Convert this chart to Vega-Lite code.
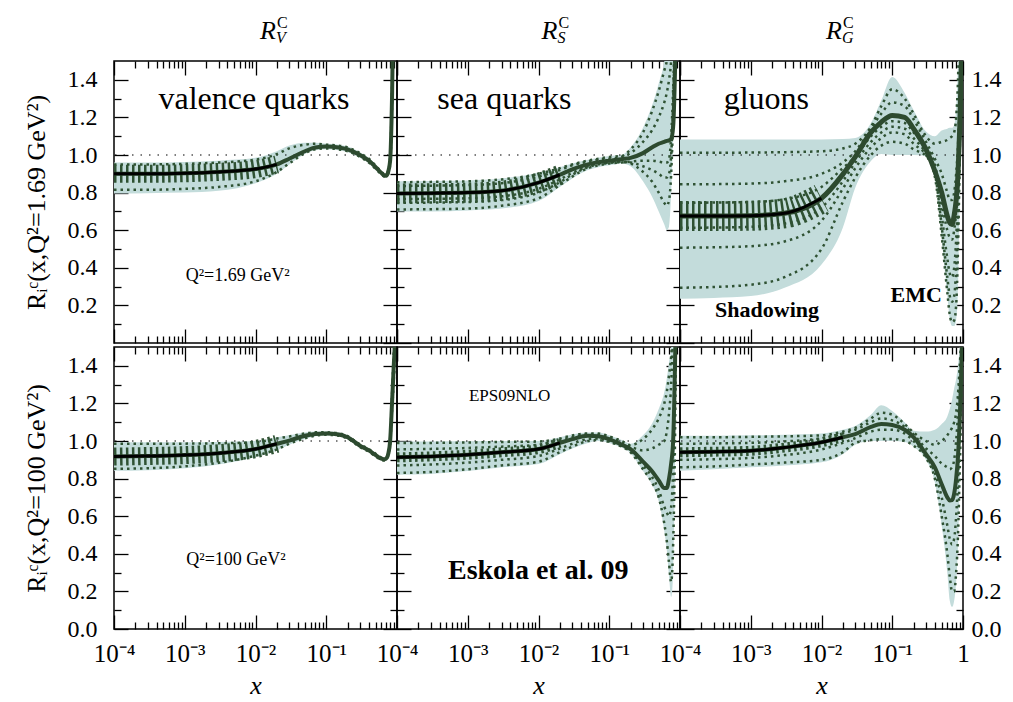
{
"$schema": "https://vega.github.io/schema/vega-lite/v6.json",
"background": "white",
"padding": {"left": 22, "top": 14, "right": 5, "bottom": 3},
"spacing": 0,
"bounds": "full",
"config": {
 "font": "Liberation Serif",
 "view": {"stroke": "black", "strokeWidth": 1.5},
 "axis": {"domain": false, "grid": false, "tickColor": "black", "tickWidth": 1.3, "labelFont": "Liberation Serif", "labelColor": "black", "labelFontSize": 24, "titleFont": "Liberation Serif", "titleColor": "black", "titleFontWeight": "normal", "labelFlush": false, "labelOverlap": false, "labelBound": false},
 "text": {"font": "Liberation Serif", "color": "black"}
},
"datasets": {
 "tl": [
  {"x":0.0001,"lo":0.795,"hi":0.96,"c":0.90,"d1":0.95,"d2":0.815},
  {"x":0.0003,"lo":0.797,"hi":0.96,"c":0.90,"d1":0.95,"d2":0.815},
  {"x":0.001,"lo":0.80,"hi":0.963,"c":0.903,"d1":0.953,"d2":0.82},
  {"x":0.003,"lo":0.81,"hi":0.97,"c":0.91,"d1":0.96,"d2":0.83},
  {"x":0.01,"lo":0.85,"hi":0.985,"c":0.925,"d1":0.975,"d2":0.86},
  {"x":0.02,"lo":0.90,"hi":1.02,"c":0.95,"d1":1.005,"d2":0.91},
  {"x":0.03,"lo":0.95,"hi":1.05,"c":0.98,"d1":1.035,"d2":0.955},
  {"x":0.05,"lo":1.005,"hi":1.065,"c":1.02,"d1":1.055,"d2":1.01},
  {"x":0.07,"lo":1.025,"hi":1.065,"c":1.04,"d1":1.06,"d2":1.03},
  {"x":0.1,"lo":1.03,"hi":1.06,"c":1.045,"d1":1.055,"d2":1.035},
  {"x":0.15,"lo":1.025,"hi":1.055,"c":1.04,"d1":1.05,"d2":1.03},
  {"x":0.2,"lo":1.015,"hi":1.045,"c":1.03,"d1":1.04,"d2":1.02},
  {"x":0.3,"lo":0.985,"hi":1.015,"c":1.0,"d1":1.01,"d2":0.99},
  {"x":0.4,"lo":0.955,"hi":0.985,"c":0.97,"d1":0.98,"d2":0.96},
  {"x":0.5,"lo":0.92,"hi":0.948,"c":0.935,"d1":0.943,"d2":0.925},
  {"x":0.6,"lo":0.895,"hi":0.915,"c":0.905,"d1":0.911,"d2":0.897},
  {"x":0.65,"lo":0.883,"hi":0.903,"c":0.893,"d1":0.9,"d2":0.886},
  {"x":0.7,"lo":0.88,"hi":0.9,"c":0.89,"d1":0.897,"d2":0.883},
  {"x":0.75,"lo":0.895,"hi":0.925,"c":0.91,"d1":0.92,"d2":0.9},
  {"x":0.8,"lo":0.94,"hi":1.0,"c":0.97,"d1":0.99,"d2":0.95},
  {"x":0.85,"lo":1.2,"hi":1.4,"c":1.3,"d1":1.35,"d2":1.25},
  {"x":0.9,"lo":1.8,"hi":2,"c":1.9,"d1":1.95,"d2":1.85},
  {"x":0.95,"lo":2,"hi":2,"c":2,"d1":2,"d2":2},
  {"x":1,"lo":2,"hi":2,"c":2,"d1":2,"d2":2}
 ],
 "tm": [
  {"x":0.0001,"lo":0.70,"hi":0.86,"c":0.795,"d1":0.855,"d2":0.835,"d3":0.765,"d4":0.71,"d5":0.745},
  {"x":0.0003,"lo":0.70,"hi":0.862,"c":0.797,"d1":0.857,"d2":0.837,"d3":0.767,"d4":0.712,"d5":0.747},
  {"x":0.001,"lo":0.705,"hi":0.865,"c":0.80,"d1":0.86,"d2":0.84,"d3":0.77,"d4":0.715,"d5":0.75},
  {"x":0.003,"lo":0.715,"hi":0.875,"c":0.81,"d1":0.87,"d2":0.85,"d3":0.78,"d4":0.73,"d5":0.76},
  {"x":0.01,"lo":0.755,"hi":0.905,"c":0.853,"d1":0.9,"d2":0.885,"d3":0.82,"d4":0.77,"d5":0.8},
  {"x":0.02,"lo":0.83,"hi":0.935,"c":0.895,"d1":0.93,"d2":0.92,"d3":0.87,"d4":0.84,"d5":0.855},
  {"x":0.03,"lo":0.875,"hi":0.955,"c":0.924,"d1":0.95,"d2":0.945,"d3":0.905,"d4":0.885,"d5":0.895},
  {"x":0.05,"lo":0.92,"hi":0.975,"c":0.95,"d1":0.97,"d2":0.965,"d3":0.94,"d4":0.93,"d5":0.935},
  {"x":0.07,"lo":0.935,"hi":0.985,"c":0.962,"d1":0.98,"d2":0.975,"d3":0.955,"d4":0.945,"d5":0.95},
  {"x":0.1,"lo":0.945,"hi":0.995,"c":0.97,"d1":0.99,"d2":0.98,"d3":0.96,"d4":0.955,"d5":0.958},
  {"x":0.15,"lo":0.955,"hi":1.0,"c":0.978,"d1":0.995,"d2":0.99,"d3":0.965,"d4":0.96,"d5":0.962},
  {"x":0.2,"lo":0.94,"hi":1.04,"c":0.985,"d1":1.03,"d2":1.01,"d3":0.955,"d4":0.965,"d5":0.96},
  {"x":0.3,"lo":0.86,"hi":1.145,"c":1.01,"d1":1.12,"d2":1.07,"d3":0.91,"d4":0.97,"d5":0.94},
  {"x":0.4,"lo":0.78,"hi":1.26,"c":1.04,"d1":1.23,"d2":1.13,"d3":0.86,"d4":0.97,"d5":0.92},
  {"x":0.5,"lo":0.70,"hi":1.38,"c":1.06,"d1":1.34,"d2":1.2,"d3":0.8,"d4":0.965,"d5":0.9},
  {"x":0.6,"lo":0.63,"hi":1.5,"c":1.07,"d1":1.45,"d2":1.28,"d3":0.745,"d4":0.96,"d5":0.88},
  {"x":0.65,"lo":0.6,"hi":1.6,"c":1.075,"d1":1.5,"d2":1.33,"d3":0.73,"d4":0.96,"d5":0.88},
  {"x":0.7,"lo":0.62,"hi":1.7,"c":1.078,"d1":1.6,"d2":1.4,"d3":0.76,"d4":0.98,"d5":0.9},
  {"x":0.75,"lo":0.8,"hi":1.8,"c":1.085,"d1":1.7,"d2":1.5,"d3":0.9,"d4":1.1,"d5":1.0},
  {"x":0.8,"lo":1.1,"hi":1.9,"c":1.15,"d1":1.8,"d2":1.7,"d3":1.2,"d4":1.35,"d5":1.25},
  {"x":0.85,"lo":1.5,"hi":2,"c":1.45,"d1":2,"d2":2,"d3":1.6,"d4":1.7,"d5":1.65},
  {"x":0.9,"lo":2,"hi":2,"c":2,"d1":2,"d2":2,"d3":2,"d4":2,"d5":2},
  {"x":0.95,"lo":2,"hi":2,"c":2,"d1":2,"d2":2,"d3":2,"d4":2,"d5":2},
  {"x":1,"lo":2,"hi":2,"c":2,"d1":2,"d2":2,"d3":2,"d4":2,"d5":2}
 ],
 "tr": [
  {"x":0.0001,"lo":0.236,"hi":1.083,"c":0.675,"d1":1.012,"d2":0.844,"d3":0.746,"d4":0.613,"d5":0.507,"d6":0.294},
  {"x":0.0003,"lo":0.24,"hi":1.083,"c":0.675,"d1":1.012,"d2":0.845,"d3":0.747,"d4":0.614,"d5":0.509,"d6":0.298},
  {"x":0.001,"lo":0.25,"hi":1.083,"c":0.677,"d1":1.013,"d2":0.848,"d3":0.75,"d4":0.618,"d5":0.515,"d6":0.31},
  {"x":0.003,"lo":0.294,"hi":1.083,"c":0.69,"d1":1.015,"d2":0.86,"d3":0.765,"d4":0.635,"d5":0.54,"d6":0.35},
  {"x":0.01,"lo":0.418,"hi":1.083,"c":0.77,"d1":1.02,"d2":0.9,"d3":0.83,"d4":0.72,"d5":0.65,"d6":0.5},
  {"x":0.02,"lo":0.613,"hi":1.085,"c":0.897,"d1":1.035,"d2":0.96,"d3":0.93,"d4":0.86,"d5":0.82,"d6":0.75},
  {"x":0.03,"lo":0.826,"hi":1.09,"c":0.99,"d1":1.06,"d2":1.02,"d3":0.99,"d4":0.96,"d5":0.93,"d6":0.88},
  {"x":0.05,"lo":0.968,"hi":1.17,"c":1.12,"d1":1.15,"d2":1.14,"d3":1.1,"d4":1.07,"d5":1.04,"d6":1.0},
  {"x":0.07,"lo":1.005,"hi":1.29,"c":1.175,"d1":1.26,"d2":1.22,"d3":1.15,"d4":1.12,"d5":1.09,"d6":1.05},
  {"x":0.1,"lo":1.0,"hi":1.415,"c":1.21,"d1":1.35,"d2":1.28,"d3":1.18,"d4":1.15,"d5":1.12,"d6":1.07},
  {"x":0.15,"lo":1.0,"hi":1.33,"c":1.2,"d1":1.3,"d2":1.26,"d3":1.17,"d4":1.14,"d5":1.11,"d6":1.06},
  {"x":0.2,"lo":1.0,"hi":1.24,"c":1.14,"d1":1.22,"d2":1.19,"d3":1.12,"d4":1.09,"d5":1.06,"d6":1.03},
  {"x":0.3,"lo":0.995,"hi":1.125,"c":1.03,"d1":1.1,"d2":1.07,"d3":1.04,"d4":1.01,"d5":1.0,"d6":0.995},
  {"x":0.4,"lo":0.88,"hi":1.1,"c":0.915,"d1":1.06,"d2":0.98,"d3":0.95,"d4":0.92,"d5":0.9,"d6":0.885},
  {"x":0.5,"lo":0.55,"hi":1.13,"c":0.8,"d1":1.07,"d2":0.9,"d3":0.75,"d4":0.68,"d5":0.62,"d6":0.57},
  {"x":0.6,"lo":0.25,"hi":1.14,"c":0.675,"d1":1.08,"d2":0.8,"d3":0.6,"d4":0.45,"d5":0.35,"d6":0.27},
  {"x":0.65,"lo":0.13,"hi":1.145,"c":0.64,"d1":1.09,"d2":0.76,"d3":0.56,"d4":0.37,"d5":0.25,"d6":0.15},
  {"x":0.7,"lo":0.09,"hi":1.145,"c":0.63,"d1":1.1,"d2":0.76,"d3":0.55,"d4":0.35,"d5":0.22,"d6":0.11},
  {"x":0.75,"lo":0.09,"hi":1.16,"c":0.68,"d1":1.12,"d2":0.8,"d3":0.6,"d4":0.4,"d5":0.25,"d6":0.12},
  {"x":0.8,"lo":0.12,"hi":1.25,"c":0.76,"d1":1.2,"d2":0.9,"d3":0.7,"d4":0.55,"d5":0.4,"d6":0.2},
  {"x":0.85,"lo":0.3,"hi":1.5,"c":0.9,"d1":1.4,"d2":1.05,"d3":0.9,"d4":0.8,"d5":0.7,"d6":0.5},
  {"x":0.9,"lo":0.8,"hi":1.9,"c":1.15,"d1":1.8,"d2":1.3,"d3":1.2,"d4":1.15,"d5":1.1,"d6":1.0},
  {"x":0.95,"lo":1.5,"hi":2,"c":1.5,"d1":1.9,"d2":1.7,"d3":1.7,"d4":1.7,"d5":1.7,"d6":1.7},
  {"x":1,"lo":2,"hi":2,"c":1.9,"d1":2,"d2":2,"d3":2,"d4":2,"d5":2,"d6":2}
 ],
 "bl": [
  {"x":0.0001,"lo":0.842,"hi":0.993,"c":0.917,"d1":0.985,"d2":0.852},
  {"x":0.0003,"lo":0.845,"hi":0.993,"c":0.92,"d1":0.985,"d2":0.855},
  {"x":0.001,"lo":0.855,"hi":0.993,"c":0.925,"d1":0.986,"d2":0.865},
  {"x":0.003,"lo":0.875,"hi":0.995,"c":0.935,"d1":0.988,"d2":0.884},
  {"x":0.01,"lo":0.915,"hi":1.0,"c":0.957,"d1":0.993,"d2":0.922},
  {"x":0.02,"lo":0.95,"hi":1.02,"c":0.985,"d1":1.013,"d2":0.955},
  {"x":0.03,"lo":0.98,"hi":1.03,"c":1.002,"d1":1.024,"d2":0.985},
  {"x":0.05,"lo":1.01,"hi":1.045,"c":1.028,"d1":1.04,"d2":1.014},
  {"x":0.07,"lo":1.025,"hi":1.05,"c":1.037,"d1":1.046,"d2":1.028},
  {"x":0.1,"lo":1.03,"hi":1.05,"c":1.04,"d1":1.046,"d2":1.033},
  {"x":0.15,"lo":1.025,"hi":1.045,"c":1.035,"d1":1.041,"d2":1.028},
  {"x":0.2,"lo":1.01,"hi":1.03,"c":1.02,"d1":1.026,"d2":1.013},
  {"x":0.3,"lo":0.965,"hi":0.985,"c":0.975,"d1":0.982,"d2":0.968},
  {"x":0.4,"lo":0.94,"hi":0.96,"c":0.95,"d1":0.957,"d2":0.943},
  {"x":0.5,"lo":0.915,"hi":0.935,"c":0.925,"d1":0.932,"d2":0.918},
  {"x":0.6,"lo":0.897,"hi":0.915,"c":0.906,"d1":0.912,"d2":0.9},
  {"x":0.65,"lo":0.893,"hi":0.91,"c":0.903,"d1":0.907,"d2":0.896},
  {"x":0.7,"lo":0.897,"hi":0.913,"c":0.906,"d1":0.91,"d2":0.9},
  {"x":0.75,"lo":0.92,"hi":0.94,"c":0.93,"d1":0.936,"d2":0.923},
  {"x":0.8,"lo":0.98,"hi":1.02,"c":1.0,"d1":1.013,"d2":0.985},
  {"x":0.85,"lo":1.15,"hi":1.25,"c":1.2,"d1":1.24,"d2":1.16},
  {"x":0.9,"lo":1.3,"hi":1.5,"c":1.4,"d1":1.47,"d2":1.32},
  {"x":0.95,"lo":1.5,"hi":1.7,"c":1.6,"d1":1.67,"d2":1.53},
  {"x":1,"lo":2,"hi":2,"c":2,"d1":2,"d2":2}
 ],
 "bm": [
  {"x":0.0001,"lo":0.82,"hi":0.998,"c":0.913,"d1":0.99,"d2":0.83,"d3":0.955,"d4":0.87},
  {"x":0.0003,"lo":0.825,"hi":0.998,"c":0.918,"d1":0.99,"d2":0.835,"d3":0.958,"d4":0.875},
  {"x":0.001,"lo":0.84,"hi":0.999,"c":0.927,"d1":0.992,"d2":0.85,"d3":0.963,"d4":0.885},
  {"x":0.003,"lo":0.86,"hi":1.0,"c":0.94,"d1":0.995,"d2":0.87,"d3":0.97,"d4":0.9},
  {"x":0.01,"lo":0.878,"hi":1.0,"c":0.957,"d1":0.997,"d2":0.89,"d3":0.98,"d4":0.92},
  {"x":0.02,"lo":0.93,"hi":1.02,"c":0.99,"d1":1.013,"d2":0.94,"d3":1.005,"d4":0.96},
  {"x":0.03,"lo":0.96,"hi":1.035,"c":1.01,"d1":1.03,"d2":0.97,"d3":1.02,"d4":0.985},
  {"x":0.05,"lo":0.99,"hi":1.045,"c":1.028,"d1":1.04,"d2":1.0,"d3":1.035,"d4":1.01},
  {"x":0.07,"lo":1.0,"hi":1.045,"c":1.025,"d1":1.04,"d2":1.005,"d3":1.033,"d4":1.013},
  {"x":0.1,"lo":0.99,"hi":1.03,"c":1.01,"d1":1.025,"d2":0.995,"d3":1.02,"d4":1.0},
  {"x":0.15,"lo":0.965,"hi":1.005,"c":0.98,"d1":1.0,"d2":0.97,"d3":0.99,"d4":0.975},
  {"x":0.2,"lo":0.935,"hi":0.985,"c":0.957,"d1":0.978,"d2":0.94,"d3":0.97,"d4":0.945},
  {"x":0.3,"lo":0.84,"hi":1.03,"c":0.89,"d1":1.01,"d2":0.85,"d3":0.95,"d4":0.87},
  {"x":0.4,"lo":0.77,"hi":1.09,"c":0.84,"d1":1.06,"d2":0.78,"d3":0.96,"d4":0.81},
  {"x":0.5,"lo":0.68,"hi":1.17,"c":0.79,"d1":1.12,"d2":0.7,"d3":0.98,"d4":0.74},
  {"x":0.6,"lo":0.52,"hi":1.26,"c":0.75,"d1":1.2,"d2":0.56,"d3":1.0,"d4":0.65},
  {"x":0.65,"lo":0.42,"hi":1.33,"c":0.75,"d1":1.26,"d2":0.47,"d3":1.05,"d4":0.62},
  {"x":0.7,"lo":0.28,"hi":1.42,"c":0.8,"d1":1.35,"d2":0.35,"d3":1.15,"d4":0.6},
  {"x":0.75,"lo":0.17,"hi":1.5,"c":0.88,"d1":1.45,"d2":0.25,"d3":1.3,"d4":0.65},
  {"x":0.8,"lo":0.3,"hi":1.7,"c":1.0,"d1":1.65,"d2":0.45,"d3":1.6,"d4":0.85},
  {"x":0.85,"lo":0.9,"hi":2,"c":1.4,"d1":2,"d2":1.0,"d3":2,"d4":1.3},
  {"x":0.9,"lo":2,"hi":2,"c":2,"d1":2,"d2":2,"d3":2,"d4":2},
  {"x":0.95,"lo":2,"hi":2,"c":2,"d1":2,"d2":2,"d3":2,"d4":2},
  {"x":1,"lo":2,"hi":2,"c":2,"d1":2,"d2":2,"d3":2,"d4":2}
 ],
 "br": [
  {"x":0.0001,"lo":0.842,"hi":1.028,"c":0.94,"d1":1.02,"d2":0.86,"d3":0.985,"d4":0.9},
  {"x":0.0003,"lo":0.85,"hi":1.028,"c":0.943,"d1":1.02,"d2":0.865,"d3":0.987,"d4":0.903},
  {"x":0.001,"lo":0.86,"hi":1.03,"c":0.948,"d1":1.022,"d2":0.875,"d3":0.99,"d4":0.91},
  {"x":0.003,"lo":0.87,"hi":1.033,"c":0.965,"d1":1.025,"d2":0.885,"d3":0.998,"d4":0.925},
  {"x":0.01,"lo":0.887,"hi":1.04,"c":0.993,"d1":1.03,"d2":0.9,"d3":1.015,"d4":0.955},
  {"x":0.02,"lo":0.93,"hi":1.06,"c":1.02,"d1":1.05,"d2":0.94,"d3":1.04,"d4":0.99},
  {"x":0.03,"lo":0.98,"hi":1.08,"c":1.037,"d1":1.07,"d2":0.99,"d3":1.06,"d4":1.015},
  {"x":0.05,"lo":1.0,"hi":1.14,"c":1.075,"d1":1.12,"d2":1.005,"d3":1.1,"d4":1.05},
  {"x":0.07,"lo":1.0,"hi":1.19,"c":1.09,"d1":1.15,"d2":1.01,"d3":1.12,"d4":1.06},
  {"x":0.1,"lo":1.0,"hi":1.16,"c":1.085,"d1":1.14,"d2":1.01,"d3":1.11,"d4":1.06},
  {"x":0.15,"lo":0.995,"hi":1.1,"c":1.06,"d1":1.09,"d2":1.0,"d3":1.075,"d4":1.04},
  {"x":0.2,"lo":0.97,"hi":1.055,"c":1.02,"d1":1.045,"d2":0.975,"d3":1.035,"d4":1.0},
  {"x":0.3,"lo":0.9,"hi":1.05,"c":0.93,"d1":1.0,"d2":0.91,"d3":0.96,"d4":0.92},
  {"x":0.4,"lo":0.78,"hi":1.06,"c":0.86,"d1":0.98,"d2":0.8,"d3":0.92,"d4":0.83},
  {"x":0.5,"lo":0.55,"hi":1.09,"c":0.77,"d1":1.0,"d2":0.6,"d3":0.88,"d4":0.7},
  {"x":0.6,"lo":0.3,"hi":1.13,"c":0.7,"d1":1.03,"d2":0.4,"d3":0.86,"d4":0.55},
  {"x":0.65,"lo":0.15,"hi":1.17,"c":0.683,"d1":1.05,"d2":0.28,"d3":0.85,"d4":0.48},
  {"x":0.7,"lo":0.117,"hi":1.22,"c":0.685,"d1":1.07,"d2":0.2,"d3":0.86,"d4":0.45},
  {"x":0.75,"lo":0.15,"hi":1.28,"c":0.72,"d1":1.1,"d2":0.2,"d3":0.9,"d4":0.48},
  {"x":0.8,"lo":0.25,"hi":1.33,"c":0.8,"d1":1.15,"d2":0.3,"d3":1.0,"d4":0.6},
  {"x":0.85,"lo":0.45,"hi":1.4,"c":0.92,"d1":1.25,"d2":0.5,"d3":1.15,"d4":0.8},
  {"x":0.9,"lo":0.8,"hi":1.5,"c":1.12,"d1":1.4,"d2":0.85,"d3":1.35,"d4":1.1},
  {"x":0.95,"lo":1.2,"hi":1.6,"c":1.4,"d1":1.55,"d2":1.2,"d3":1.5,"d4":1.35},
  {"x":1,"lo":1.5,"hi":1.7,"c":1.7,"d1":1.65,"d2":1.5,"d3":1.65,"d4":1.6}
 ]
},
"vconcat": [
 {"hconcat": [
  {"width": 283, "height": 282, "data": {"name": "tl"},
   "resolve": {"axis": {"x": "independent", "y": "independent"}},
   "layer": [
    {"mark": {"type": "area", "color": "#c3dcdb", "interpolate": "monotone", "clip": true},
     "encoding": {"x": {"field": "x", "type": "quantitative", "scale": {"type": "log", "domain": [0.0001, 1]}, "axis": {"orient": "bottom", "values": [0.0001,0.001,0.01,0.1,1], "tickSize": -14, "labels": false, "title": null}},
      "y": {"field": "lo", "type": "quantitative", "scale": {"domain": [0, 1.5], "nice": false}, "axis": {"orient": "left", "values": [0.2,0.4,0.6,0.8,1,1.2,1.4], "tickSize": -14, "labelExpr": "format(datum.value, '.1f')", "labelPadding": 31, "title": "Rᵢᶜ(x,Q²=1.69 GeV²)", "titleFontSize": 26, "titlePadding": 18}},
      "y2": {"field": "hi"}}},
    {"data": {"values": [{}]}, "mark": {"type": "rule", "color": "black", "strokeDash": [1.5, 7], "strokeWidth": 1.2}, "encoding": {"y": {"datum": 1, "type": "quantitative", "axis": null}}},
    {"transform": [{"fold": ["d1","d2","d3","d4","d5","d6"]}], "mark": {"type": "line", "color": "#2f5233", "strokeDash": [2.5, 4], "strokeWidth": 2.5, "interpolate": "monotone", "clip": true},
     "encoding": {"x": {"field": "x", "type": "quantitative", "scale": {"type": "log", "domain": [0.0001, 1]}, "axis": {"orient": "bottom", "values": [0.0002,0.0003,0.0004,0.0005,0.0006,0.0007,0.0008,0.0009,0.002,0.003,0.004,0.005,0.006,0.007,0.008,0.009,0.02,0.03,0.04,0.05,0.06,0.07,0.08,0.09,0.2,0.3,0.4,0.5,0.6,0.7,0.8,0.9], "tickSize": -7, "labels": false, "title": null}},
      "y": {"field": "value", "type": "quantitative", "axis": {"orient": "left", "values": [0.1,0.3,0.5,0.7,0.9,1.1,1.3], "tickSize": -7, "labels": false, "title": null}},
      "detail": {"field": "key"}}},
    {"transform": [{"filter": {"field": "x", "lte": 0.02}}], "mark": {"type": "line", "color": "#2f5233", "strokeDash": [2.5, 3.5], "strokeWidth": 18, "strokeCap": "butt", "interpolate": "monotone", "clip": true},
     "encoding": {"x": {"field": "x", "type": "quantitative", "axis": null}, "y": {"field": "c", "type": "quantitative", "axis": null}}},
    {"mark": {"type": "line", "color": "#2d4a2f", "strokeWidth": 4, "interpolate": "monotone", "clip": true},
     "encoding": {"x": {"field": "x", "type": "quantitative", "axis": {"orient": "top", "values": [0.0001,0.001,0.01,0.1,1], "tickSize": -14, "labels": false, "title": null}},
      "y": {"field": "c", "type": "quantitative", "axis": {"orient": "right", "values": [0,0.2,0.4,0.6,0.8,1,1.2,1.4], "tickSize": -14, "labels": false, "title": null}}}},
    {"transform": [{"filter": {"field": "x", "lte": 0.02}}], "mark": {"type": "line", "color": "black", "strokeWidth": 3, "interpolate": "monotone", "clip": true},
     "encoding": {"x": {"field": "x", "type": "quantitative", "axis": {"orient": "top", "values": [0.0002,0.0003,0.0004,0.0005,0.0006,0.0007,0.0008,0.0009,0.002,0.003,0.004,0.005,0.006,0.007,0.008,0.009,0.02,0.03,0.04,0.05,0.06,0.07,0.08,0.09,0.2,0.3,0.4,0.5,0.6,0.7,0.8,0.9], "tickSize": -7, "labels": false, "title": null}},
      "y": {"field": "c", "type": "quantitative", "axis": {"orient": "right", "values": [0.1,0.3,0.5,0.7,0.9,1.1,1.3], "tickSize": -7, "labels": false, "title": null}}}},
    {"data": {"values": [{}]}, "mark": {"type": "text", "text": "valence quarks", "fontSize": 32, "baseline": "middle"}, "encoding": {"x": {"datum": 0.0095, "type": "quantitative", "axis": null}, "y": {"datum": 1.3, "type": "quantitative", "axis": null}}},
    {"data": {"values": [{}]}, "mark": {"type": "text", "text": "Q²=1.69 GeV²", "fontSize": 18, "baseline": "middle"}, "encoding": {"x": {"datum": 0.0056, "type": "quantitative", "axis": null}, "y": {"datum": 0.356, "type": "quantitative", "axis": null}}},
    {"data": {"values": [{}]}, "mark": {"type": "text", "text": "R", "fontSize": 26, "fontStyle": "italic", "baseline": "alphabetic"}, "encoding": {"x": {"datum": 0.015, "type": "quantitative", "axis": null}, "y": {"datum": 1.617, "type": "quantitative", "axis": null}}},
    {"data": {"values": [{}]}, "mark": {"type": "text", "text": "C", "fontSize": 16, "align": "left", "dx": 9, "dy": -11, "baseline": "alphabetic"}, "encoding": {"x": {"datum": 0.015, "type": "quantitative", "axis": null}, "y": {"datum": 1.617, "type": "quantitative", "axis": null}}},
    {"data": {"values": [{}]}, "mark": {"type": "text", "text": "V", "fontSize": 16, "fontStyle": "italic", "align": "left", "dx": 8, "dy": 4, "baseline": "alphabetic"}, "encoding": {"x": {"datum": 0.015, "type": "quantitative", "axis": null}, "y": {"datum": 1.617, "type": "quantitative", "axis": null}}}
   ]},
  {"width": 283, "height": 282, "data": {"name": "tm"},
   "resolve": {"axis": {"x": "independent", "y": "independent"}},
   "layer": [
    {"mark": {"type": "area", "color": "#c3dcdb", "interpolate": "monotone", "clip": true},
     "encoding": {"x": {"field": "x", "type": "quantitative", "scale": {"type": "log", "domain": [0.0001, 1]}, "axis": {"orient": "bottom", "values": [0.0001,0.001,0.01,0.1,1], "tickSize": -14, "labels": false, "title": null}},
      "y": {"field": "lo", "type": "quantitative", "scale": {"domain": [0, 1.5], "nice": false}, "axis": {"orient": "left", "values": [0,0.2,0.4,0.6,0.8,1,1.2,1.4], "tickSize": -14, "labels": false, "title": null}},
      "y2": {"field": "hi"}}},
    {"data": {"values": [{}]}, "mark": {"type": "rule", "color": "black", "strokeDash": [1.5, 7], "strokeWidth": 1.2}, "encoding": {"y": {"datum": 1, "type": "quantitative", "axis": null}}},
    {"transform": [{"fold": ["d1","d2","d3","d4","d5","d6"]}], "mark": {"type": "line", "color": "#2f5233", "strokeDash": [2.5, 4], "strokeWidth": 2.5, "interpolate": "monotone", "clip": true},
     "encoding": {"x": {"field": "x", "type": "quantitative", "scale": {"type": "log", "domain": [0.0001, 1]}, "axis": {"orient": "bottom", "values": [0.0002,0.0003,0.0004,0.0005,0.0006,0.0007,0.0008,0.0009,0.002,0.003,0.004,0.005,0.006,0.007,0.008,0.009,0.02,0.03,0.04,0.05,0.06,0.07,0.08,0.09,0.2,0.3,0.4,0.5,0.6,0.7,0.8,0.9], "tickSize": -7, "labels": false, "title": null}},
      "y": {"field": "value", "type": "quantitative", "axis": {"orient": "left", "values": [0.1,0.3,0.5,0.7,0.9,1.1,1.3], "tickSize": -7, "labels": false, "title": null}},
      "detail": {"field": "key"}}},
    {"transform": [{"filter": {"field": "x", "lte": 0.02}}], "mark": {"type": "line", "color": "#2f5233", "strokeDash": [2.5, 3.5], "strokeWidth": 20, "strokeCap": "butt", "interpolate": "monotone", "clip": true},
     "encoding": {"x": {"field": "x", "type": "quantitative", "axis": null}, "y": {"field": "c", "type": "quantitative", "axis": null}}},
    {"mark": {"type": "line", "color": "#2d4a2f", "strokeWidth": 4, "interpolate": "monotone", "clip": true},
     "encoding": {"x": {"field": "x", "type": "quantitative", "axis": {"orient": "top", "values": [0.0001,0.001,0.01,0.1,1], "tickSize": -14, "labels": false, "title": null}},
      "y": {"field": "c", "type": "quantitative", "axis": {"orient": "right", "values": [0,0.2,0.4,0.6,0.8,1,1.2,1.4], "tickSize": -14, "labels": false, "title": null}}}},
    {"transform": [{"filter": {"field": "x", "lte": 0.02}}], "mark": {"type": "line", "color": "black", "strokeWidth": 3, "interpolate": "monotone", "clip": true},
     "encoding": {"x": {"field": "x", "type": "quantitative", "axis": {"orient": "top", "values": [0.0002,0.0003,0.0004,0.0005,0.0006,0.0007,0.0008,0.0009,0.002,0.003,0.004,0.005,0.006,0.007,0.008,0.009,0.02,0.03,0.04,0.05,0.06,0.07,0.08,0.09,0.2,0.3,0.4,0.5,0.6,0.7,0.8,0.9], "tickSize": -7, "labels": false, "title": null}},
      "y": {"field": "c", "type": "quantitative", "axis": {"orient": "right", "values": [0.1,0.3,0.5,0.7,0.9,1.1,1.3], "tickSize": -7, "labels": false, "title": null}}}},
    {"data": {"values": [{}]}, "mark": {"type": "text", "text": "sea quarks", "fontSize": 32, "baseline": "middle"}, "encoding": {"x": {"datum": 0.0033, "type": "quantitative", "axis": null}, "y": {"datum": 1.3, "type": "quantitative", "axis": null}}},
    {"data": {"values": [{}]}, "mark": {"type": "text", "text": "R", "fontSize": 26, "fontStyle": "italic", "baseline": "alphabetic"}, "encoding": {"x": {"datum": 0.0143, "type": "quantitative", "axis": null}, "y": {"datum": 1.617, "type": "quantitative", "axis": null}}},
    {"data": {"values": [{}]}, "mark": {"type": "text", "text": "C", "fontSize": 16, "align": "left", "dx": 9, "dy": -11, "baseline": "alphabetic"}, "encoding": {"x": {"datum": 0.0143, "type": "quantitative", "axis": null}, "y": {"datum": 1.617, "type": "quantitative", "axis": null}}},
    {"data": {"values": [{}]}, "mark": {"type": "text", "text": "S", "fontSize": 16, "fontStyle": "italic", "align": "left", "dx": 8, "dy": 4, "baseline": "alphabetic"}, "encoding": {"x": {"datum": 0.0143, "type": "quantitative", "axis": null}, "y": {"datum": 1.617, "type": "quantitative", "axis": null}}}
   ]},
  {"width": 283, "height": 282, "data": {"name": "tr"},
   "resolve": {"axis": {"x": "independent", "y": "independent"}},
   "layer": [
    {"mark": {"type": "area", "color": "#c3dcdb", "interpolate": "monotone", "clip": true},
     "encoding": {"x": {"field": "x", "type": "quantitative", "scale": {"type": "log", "domain": [0.0001, 1]}, "axis": {"orient": "bottom", "values": [0.0001,0.001,0.01,0.1,1], "tickSize": -14, "labels": false, "title": null}},
      "y": {"field": "lo", "type": "quantitative", "scale": {"domain": [0, 1.5], "nice": false}, "axis": {"orient": "left", "values": [0,0.2,0.4,0.6,0.8,1,1.2,1.4], "tickSize": -14, "labels": false, "title": null}},
      "y2": {"field": "hi"}}},
    {"data": {"values": [{}]}, "mark": {"type": "rule", "color": "black", "strokeDash": [1.5, 7], "strokeWidth": 1.2}, "encoding": {"y": {"datum": 1, "type": "quantitative", "axis": null}}},
    {"transform": [{"fold": ["d1","d2","d3","d4","d5","d6"]}], "mark": {"type": "line", "color": "#2f5233", "strokeDash": [2.5, 4], "strokeWidth": 2.5, "interpolate": "monotone", "clip": true},
     "encoding": {"x": {"field": "x", "type": "quantitative", "scale": {"type": "log", "domain": [0.0001, 1]}, "axis": {"orient": "bottom", "values": [0.0002,0.0003,0.0004,0.0005,0.0006,0.0007,0.0008,0.0009,0.002,0.003,0.004,0.005,0.006,0.007,0.008,0.009,0.02,0.03,0.04,0.05,0.06,0.07,0.08,0.09,0.2,0.3,0.4,0.5,0.6,0.7,0.8,0.9], "tickSize": -7, "labels": false, "title": null}},
      "y": {"field": "value", "type": "quantitative", "axis": {"orient": "left", "values": [0.1,0.3,0.5,0.7,0.9,1.1,1.3], "tickSize": -7, "labels": false, "title": null}},
      "detail": {"field": "key"}}},
    {"transform": [{"filter": {"field": "x", "lte": 0.01}}], "mark": {"type": "line", "color": "#2f5233", "strokeDash": [2.5, 3.5], "strokeWidth": 30, "strokeCap": "butt", "interpolate": "monotone", "clip": true},
     "encoding": {"x": {"field": "x", "type": "quantitative", "axis": null}, "y": {"field": "c", "type": "quantitative", "axis": null}}},
    {"mark": {"type": "line", "color": "#2d4a2f", "strokeWidth": 5, "interpolate": "monotone", "clip": true},
     "encoding": {"x": {"field": "x", "type": "quantitative", "axis": {"orient": "top", "values": [0.0001,0.001,0.01,0.1,1], "tickSize": -14, "labels": false, "title": null}},
      "y": {"field": "c", "type": "quantitative", "axis": {"orient": "right", "values": [0.2,0.4,0.6,0.8,1,1.2,1.4], "tickSize": -14, "labelExpr": "format(datum.value, '.1f')", "labelPadding": 22, "title": null}}}},
    {"transform": [{"filter": {"field": "x", "lte": 0.01}}], "mark": {"type": "line", "color": "black", "strokeWidth": 3, "interpolate": "monotone", "clip": true},
     "encoding": {"x": {"field": "x", "type": "quantitative", "axis": {"orient": "top", "values": [0.0002,0.0003,0.0004,0.0005,0.0006,0.0007,0.0008,0.0009,0.002,0.003,0.004,0.005,0.006,0.007,0.008,0.009,0.02,0.03,0.04,0.05,0.06,0.07,0.08,0.09,0.2,0.3,0.4,0.5,0.6,0.7,0.8,0.9], "tickSize": -7, "labels": false, "title": null}},
      "y": {"field": "c", "type": "quantitative", "axis": {"orient": "right", "values": [0.1,0.3,0.5,0.7,0.9,1.1,1.3], "tickSize": -7, "labels": false, "title": null}}}},
    {"data": {"values": [{}]}, "mark": {"type": "text", "text": "gluons", "fontSize": 32, "baseline": "middle"}, "encoding": {"x": {"datum": 0.00166, "type": "quantitative", "axis": null}, "y": {"datum": 1.3, "type": "quantitative", "axis": null}}},
    {"data": {"values": [{}]}, "mark": {"type": "text", "text": "Shadowing", "fontSize": 22, "fontWeight": "bold", "baseline": "middle"}, "encoding": {"x": {"datum": 0.0017, "type": "quantitative", "axis": null}, "y": {"datum": 0.176, "type": "quantitative", "axis": null}}},
    {"data": {"values": [{}]}, "mark": {"type": "text", "text": "EMC", "fontSize": 22, "fontWeight": "bold", "baseline": "middle"}, "encoding": {"x": {"datum": 0.218, "type": "quantitative", "axis": null}, "y": {"datum": 0.255, "type": "quantitative", "axis": null}}},
    {"data": {"values": [{}]}, "mark": {"type": "text", "text": "R", "fontSize": 26, "fontStyle": "italic", "baseline": "alphabetic"}, "encoding": {"x": {"datum": 0.015, "type": "quantitative", "axis": null}, "y": {"datum": 1.617, "type": "quantitative", "axis": null}}},
    {"data": {"values": [{}]}, "mark": {"type": "text", "text": "C", "fontSize": 16, "align": "left", "dx": 9, "dy": -11, "baseline": "alphabetic"}, "encoding": {"x": {"datum": 0.015, "type": "quantitative", "axis": null}, "y": {"datum": 1.617, "type": "quantitative", "axis": null}}},
    {"data": {"values": [{}]}, "mark": {"type": "text", "text": "G", "fontSize": 16, "fontStyle": "italic", "align": "left", "dx": 8, "dy": 4, "baseline": "alphabetic"}, "encoding": {"x": {"datum": 0.015, "type": "quantitative", "axis": null}, "y": {"datum": 1.617, "type": "quantitative", "axis": null}}}
   ]}
 ], "spacing": 0, "bounds": "flush"},
 {"hconcat": [
  {"width": 283, "height": 282, "data": {"name": "bl"},
   "resolve": {"axis": {"x": "independent", "y": "independent"}},
   "layer": [
    {"mark": {"type": "area", "color": "#c3dcdb", "interpolate": "monotone", "clip": true},
     "encoding": {"x": {"field": "x", "type": "quantitative", "scale": {"type": "log", "domain": [0.0001, 1]}, "axis": {"orient": "bottom", "values": [0.0001,0.001,0.01,0.1], "tickSize": -14, "labelExpr": "datum.value < 0.0005 ? '10⁻⁴' : datum.value < 0.005 ? '10⁻³' : datum.value < 0.05 ? '10⁻²' : datum.value < 0.5 ? '10⁻¹' : '1'", "labelFontSize": 25, "labelPadding": 26, "title": "x", "titleFontStyle": "italic", "titleFontSize": 26, "titlePadding": 6}},
      "y": {"field": "lo", "type": "quantitative", "scale": {"domain": [0, 1.5], "nice": false}, "axis": {"orient": "left", "values": [0,0.2,0.4,0.6,0.8,1,1.2,1.4], "tickSize": -14, "labelExpr": "format(datum.value, '.1f')", "labelPadding": 31, "title": "Rᵢᶜ(x,Q²=100 GeV²)", "titleFontSize": 26, "titlePadding": 18}},
      "y2": {"field": "hi"}}},
    {"data": {"values": [{}]}, "mark": {"type": "rule", "color": "black", "strokeDash": [1.5, 7], "strokeWidth": 1.2}, "encoding": {"y": {"datum": 1, "type": "quantitative", "axis": null}}},
    {"transform": [{"fold": ["d1","d2","d3","d4","d5","d6"]}], "mark": {"type": "line", "color": "#2f5233", "strokeDash": [2.5, 4], "strokeWidth": 2.5, "interpolate": "monotone", "clip": true},
     "encoding": {"x": {"field": "x", "type": "quantitative", "scale": {"type": "log", "domain": [0.0001, 1]}, "axis": {"orient": "bottom", "values": [0.0002,0.0003,0.0004,0.0005,0.0006,0.0007,0.0008,0.0009,0.002,0.003,0.004,0.005,0.006,0.007,0.008,0.009,0.02,0.03,0.04,0.05,0.06,0.07,0.08,0.09,0.2,0.3,0.4,0.5,0.6,0.7,0.8,0.9], "tickSize": -7, "labels": false, "title": null}},
      "y": {"field": "value", "type": "quantitative", "axis": {"orient": "left", "values": [0.1,0.3,0.5,0.7,0.9,1.1,1.3], "tickSize": -7, "labels": false, "title": null}},
      "detail": {"field": "key"}}},
    {"transform": [{"filter": {"field": "x", "lte": 0.02}}], "mark": {"type": "line", "color": "#2f5233", "strokeDash": [2.5, 3.5], "strokeWidth": 18, "strokeCap": "butt", "interpolate": "monotone", "clip": true},
     "encoding": {"x": {"field": "x", "type": "quantitative", "axis": null}, "y": {"field": "c", "type": "quantitative", "axis": null}}},
    {"mark": {"type": "line", "color": "#2d4a2f", "strokeWidth": 4, "interpolate": "monotone", "clip": true},
     "encoding": {"x": {"field": "x", "type": "quantitative", "axis": {"orient": "top", "values": [0.0001,0.001,0.01,0.1,1], "tickSize": -14, "labels": false, "title": null}},
      "y": {"field": "c", "type": "quantitative", "axis": {"orient": "right", "values": [0,0.2,0.4,0.6,0.8,1,1.2,1.4], "tickSize": -14, "labels": false, "title": null}}}},
    {"transform": [{"filter": {"field": "x", "lte": 0.02}}], "mark": {"type": "line", "color": "black", "strokeWidth": 3, "interpolate": "monotone", "clip": true},
     "encoding": {"x": {"field": "x", "type": "quantitative", "axis": {"orient": "top", "values": [0.0002,0.0003,0.0004,0.0005,0.0006,0.0007,0.0008,0.0009,0.002,0.003,0.004,0.005,0.006,0.007,0.008,0.009,0.02,0.03,0.04,0.05,0.06,0.07,0.08,0.09,0.2,0.3,0.4,0.5,0.6,0.7,0.8,0.9], "tickSize": -7, "labels": false, "title": null}},
      "y": {"field": "c", "type": "quantitative", "axis": {"orient": "right", "values": [0.1,0.3,0.5,0.7,0.9,1.1,1.3], "tickSize": -7, "labels": false, "title": null}}}},
    {"data": {"values": [{}]}, "mark": {"type": "text", "text": "Q²=100 GeV²", "fontSize": 18, "baseline": "middle"}, "encoding": {"x": {"datum": 0.0053, "type": "quantitative", "axis": null}, "y": {"datum": 0.367, "type": "quantitative", "axis": null}}}
   ]},
  {"width": 283, "height": 282, "data": {"name": "bm"},
   "resolve": {"axis": {"x": "independent", "y": "independent"}},
   "layer": [
    {"mark": {"type": "area", "color": "#c3dcdb", "interpolate": "monotone", "clip": true},
     "encoding": {"x": {"field": "x", "type": "quantitative", "scale": {"type": "log", "domain": [0.0001, 1]}, "axis": {"orient": "bottom", "values": [0.0001,0.001,0.01,0.1], "tickSize": -14, "labelExpr": "datum.value < 0.0005 ? '10⁻⁴' : datum.value < 0.005 ? '10⁻³' : datum.value < 0.05 ? '10⁻²' : datum.value < 0.5 ? '10⁻¹' : '1'", "labelFontSize": 25, "labelPadding": 26, "title": "x", "titleFontStyle": "italic", "titleFontSize": 26, "titlePadding": 6}},
      "y": {"field": "lo", "type": "quantitative", "scale": {"domain": [0, 1.5], "nice": false}, "axis": {"orient": "left", "values": [0,0.2,0.4,0.6,0.8,1,1.2,1.4], "tickSize": -14, "labels": false, "title": null}},
      "y2": {"field": "hi"}}},
    {"data": {"values": [{}]}, "mark": {"type": "rule", "color": "black", "strokeDash": [1.5, 7], "strokeWidth": 1.2}, "encoding": {"y": {"datum": 1, "type": "quantitative", "axis": null}}},
    {"transform": [{"fold": ["d1","d2","d3","d4","d5","d6"]}], "mark": {"type": "line", "color": "#2f5233", "strokeDash": [2.5, 4], "strokeWidth": 2.5, "interpolate": "monotone", "clip": true},
     "encoding": {"x": {"field": "x", "type": "quantitative", "scale": {"type": "log", "domain": [0.0001, 1]}, "axis": {"orient": "bottom", "values": [0.0002,0.0003,0.0004,0.0005,0.0006,0.0007,0.0008,0.0009,0.002,0.003,0.004,0.005,0.006,0.007,0.008,0.009,0.02,0.03,0.04,0.05,0.06,0.07,0.08,0.09,0.2,0.3,0.4,0.5,0.6,0.7,0.8,0.9], "tickSize": -7, "labels": false, "title": null}},
      "y": {"field": "value", "type": "quantitative", "axis": {"orient": "left", "values": [0.1,0.3,0.5,0.7,0.9,1.1,1.3], "tickSize": -7, "labels": false, "title": null}},
      "detail": {"field": "key"}}},
    {"transform": [{"filter": {"field": "x", "lte": 0.02}}], "mark": {"type": "line", "color": "#2f5233", "strokeDash": [2.5, 3.5], "strokeWidth": 10, "strokeCap": "butt", "interpolate": "monotone", "clip": true},
     "encoding": {"x": {"field": "x", "type": "quantitative", "axis": null}, "y": {"field": "c", "type": "quantitative", "axis": null}}},
    {"mark": {"type": "line", "color": "#2d4a2f", "strokeWidth": 4, "interpolate": "monotone", "clip": true},
     "encoding": {"x": {"field": "x", "type": "quantitative", "axis": {"orient": "top", "values": [0.0001,0.001,0.01,0.1,1], "tickSize": -14, "labels": false, "title": null}},
      "y": {"field": "c", "type": "quantitative", "axis": {"orient": "right", "values": [0,0.2,0.4,0.6,0.8,1,1.2,1.4], "tickSize": -14, "labels": false, "title": null}}}},
    {"transform": [{"filter": {"field": "x", "lte": 0.02}}], "mark": {"type": "line", "color": "black", "strokeWidth": 3, "interpolate": "monotone", "clip": true},
     "encoding": {"x": {"field": "x", "type": "quantitative", "axis": {"orient": "top", "values": [0.0002,0.0003,0.0004,0.0005,0.0006,0.0007,0.0008,0.0009,0.002,0.003,0.004,0.005,0.006,0.007,0.008,0.009,0.02,0.03,0.04,0.05,0.06,0.07,0.08,0.09,0.2,0.3,0.4,0.5,0.6,0.7,0.8,0.9], "tickSize": -7, "labels": false, "title": null}},
      "y": {"field": "c", "type": "quantitative", "axis": {"orient": "right", "values": [0.1,0.3,0.5,0.7,0.9,1.1,1.3], "tickSize": -7, "labels": false, "title": null}}}},
    {"data": {"values": [{}]}, "mark": {"type": "text", "text": "EPS09NLO", "fontSize": 17, "baseline": "middle"}, "encoding": {"x": {"datum": 0.0039, "type": "quantitative", "axis": null}, "y": {"datum": 1.242, "type": "quantitative", "axis": null}}},
    {"data": {"values": [{}]}, "mark": {"type": "text", "text": "Eskola et al. 09", "fontSize": 28, "fontWeight": "bold", "baseline": "middle"}, "encoding": {"x": {"datum": 0.0099, "type": "quantitative", "axis": null}, "y": {"datum": 0.306, "type": "quantitative", "axis": null}}}
   ]},
  {"width": 283, "height": 282, "data": {"name": "br"},
   "resolve": {"axis": {"x": "independent", "y": "independent"}},
   "layer": [
    {"mark": {"type": "area", "color": "#c3dcdb", "interpolate": "monotone", "clip": true},
     "encoding": {"x": {"field": "x", "type": "quantitative", "scale": {"type": "log", "domain": [0.0001, 1]}, "axis": {"orient": "bottom", "values": [0.0001,0.001,0.01,0.1,1], "tickSize": -14, "labelExpr": "datum.value < 0.0005 ? '10⁻⁴' : datum.value < 0.005 ? '10⁻³' : datum.value < 0.05 ? '10⁻²' : datum.value < 0.5 ? '10⁻¹' : '1'", "labelFontSize": 25, "labelPadding": 26, "title": "x", "titleFontStyle": "italic", "titleFontSize": 26, "titlePadding": 6}},
      "y": {"field": "lo", "type": "quantitative", "scale": {"domain": [0, 1.5], "nice": false}, "axis": {"orient": "left", "values": [0,0.2,0.4,0.6,0.8,1,1.2,1.4], "tickSize": -14, "labels": false, "title": null}},
      "y2": {"field": "hi"}}},
    {"data": {"values": [{}]}, "mark": {"type": "rule", "color": "black", "strokeDash": [1.5, 7], "strokeWidth": 1.2}, "encoding": {"y": {"datum": 1, "type": "quantitative", "axis": null}}},
    {"transform": [{"fold": ["d1","d2","d3","d4","d5","d6"]}], "mark": {"type": "line", "color": "#2f5233", "strokeDash": [2.5, 4], "strokeWidth": 2.5, "interpolate": "monotone", "clip": true},
     "encoding": {"x": {"field": "x", "type": "quantitative", "scale": {"type": "log", "domain": [0.0001, 1]}, "axis": {"orient": "bottom", "values": [0.0002,0.0003,0.0004,0.0005,0.0006,0.0007,0.0008,0.0009,0.002,0.003,0.004,0.005,0.006,0.007,0.008,0.009,0.02,0.03,0.04,0.05,0.06,0.07,0.08,0.09,0.2,0.3,0.4,0.5,0.6,0.7,0.8,0.9], "tickSize": -7, "labels": false, "title": null}},
      "y": {"field": "value", "type": "quantitative", "axis": {"orient": "left", "values": [0.1,0.3,0.5,0.7,0.9,1.1,1.3], "tickSize": -7, "labels": false, "title": null}},
      "detail": {"field": "key"}}},
    {"transform": [{"filter": {"field": "x", "lte": 0.02}}], "mark": {"type": "line", "color": "#2f5233", "strokeDash": [2.5, 3.5], "strokeWidth": 10, "strokeCap": "butt", "interpolate": "monotone", "clip": true},
     "encoding": {"x": {"field": "x", "type": "quantitative", "axis": null}, "y": {"field": "c", "type": "quantitative", "axis": null}}},
    {"mark": {"type": "line", "color": "#2d4a2f", "strokeWidth": 4, "interpolate": "monotone", "clip": true},
     "encoding": {"x": {"field": "x", "type": "quantitative", "axis": {"orient": "top", "values": [0.0001,0.001,0.01,0.1,1], "tickSize": -14, "labels": false, "title": null}},
      "y": {"field": "c", "type": "quantitative", "axis": {"orient": "right", "values": [0,0.2,0.4,0.6,0.8,1,1.2,1.4], "tickSize": -14, "labelExpr": "format(datum.value, '.1f')", "labelPadding": 22, "title": null}}}},
    {"transform": [{"filter": {"field": "x", "lte": 0.02}}], "mark": {"type": "line", "color": "black", "strokeWidth": 3, "interpolate": "monotone", "clip": true},
     "encoding": {"x": {"field": "x", "type": "quantitative", "axis": {"orient": "top", "values": [0.0002,0.0003,0.0004,0.0005,0.0006,0.0007,0.0008,0.0009,0.002,0.003,0.004,0.005,0.006,0.007,0.008,0.009,0.02,0.03,0.04,0.05,0.06,0.07,0.08,0.09,0.2,0.3,0.4,0.5,0.6,0.7,0.8,0.9], "tickSize": -7, "labels": false, "title": null}},
      "y": {"field": "c", "type": "quantitative", "axis": {"orient": "right", "values": [0.1,0.3,0.5,0.7,0.9,1.1,1.3], "tickSize": -7, "labels": false, "title": null}}}}
   ]}
 ], "spacing": 0, "bounds": "flush"}
]
}
